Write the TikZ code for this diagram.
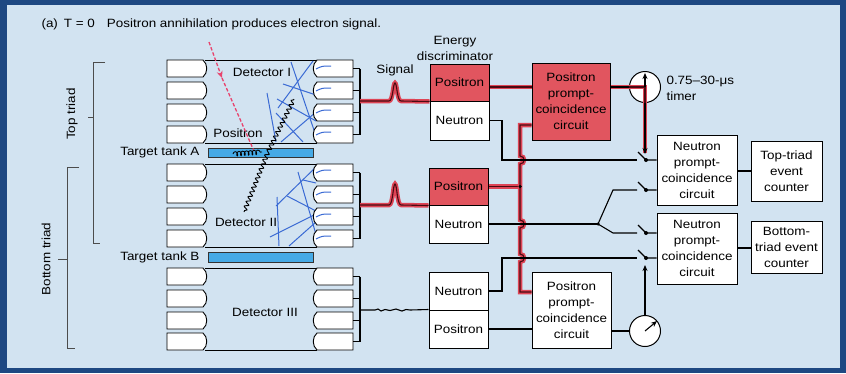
\documentclass[tikz,border=0pt]{standalone}
\usepackage{fontspec}
\setmainfont{Liberation Sans}[FakeStretch=1.12]
\usetikzlibrary{arrows.meta,decorations.pathmorphing}
\definecolor{darkbg}{HTML}{1E4882}
\definecolor{panel}{HTML}{D2E3F1}
\definecolor{redfill}{HTML}{E1555F}
\definecolor{glowred}{HTML}{DE4455}
\definecolor{corered}{HTML}{4A0A12}
\definecolor{tankblue}{HTML}{46AAE6}
\definecolor{rayblue}{HTML}{3A6AD4}
\definecolor{dashred}{HTML}{E8446E}
\newcommand\lblfont{\fontsize{12}{16}\selectfont}
\begin{document}
\begin{tikzpicture}[x=1pt,y=-1pt,font=\lblfont,
  box/.style={draw=black, line width=1pt, fill=white, inner sep=0pt, align=center},
  redbox/.style={box, fill=redfill},
  tube/.style={draw=black, line width=0.9pt, fill=white},
  wire/.style={draw=black, line width=1.1pt},
  sig/.style={draw=corered, line width=1.1pt, preaction={draw=glowred, line width=4.5pt}},
  ray/.style={draw=rayblue, line width=1pt},
  raydash/.style={draw=dashred, line width=1.3pt, dash pattern=on 3.5pt off 2pt},
  gamma/.style={decorate, decoration={snake, amplitude=2pt, segment length=5pt}, line width=0.9pt},
  bracket/.style={draw=black!70, line width=0.7pt},
  sw/.style={draw=black, line width=1.1pt},
  dot/.style={circle, fill=black, inner sep=0pt, minimum size=4pt},
  tmr/.style={circle, draw=black, line width=1pt, fill=white, minimum size=31pt, inner sep=0pt}]

% background
\fill[darkbg] (0,0) rectangle (846,373);
\fill[panel] (7,5) rectangle (840,368);

% title
\node[anchor=west] (title) at (38,24) {(a)\enspace T = 0\quad Positron annihilation produces electron signal.};

% triad brackets
\draw[bracket] (105,62) -- (93,62) -- (93,243) -- (100,243);
\draw[bracket] (88,117) -- (93,117);
\node[rotate=90] (toptriad) at (72,114) {Top triad};
\draw[bracket] (79,167) -- (67,167) -- (67,348) -- (75,348);
\draw[bracket] (58,259) -- (67,259);
\node[rotate=90] (bottriad) at (46,259) {Bottom triad};

% detector outlines
\draw[wire, line width=0.9pt] (205,60) -- (317,60) (205,143) -- (317,143);
\draw[wire, line width=0.9pt] (205,164) -- (317,164) (205,247) -- (317,247);
\draw[wire, line width=0.9pt] (205,268) -- (317,268) (205,350) -- (317,350);

% tanks
\draw[draw=black!80, line width=0.9pt, fill=tankblue] (208,148) rectangle (313,157);
\draw[draw=black!80, line width=0.9pt, fill=tankblue] (208,252) rectangle (313,262);
\node[anchor=east] (tankA) at (203,152.5) {Target tank A};
\node[anchor=east] (tankB) at (203,257) {Target tank B};

% blue light rays, detector I
\draw[ray] (313,61) -- (278,108);
\draw[ray] (267,93) -- (276,142);
\draw[ray] (277,99) -- (316,121);
\draw[ray] (281,142) -- (316,112);
\draw[ray] (276,113) -- (303,142);
\draw[ray] (291,62) -- (317,139);
\draw[ray] (283,84) -- (316,95);
% detector II
\draw[ray] (317,166) -- (276,206);
\draw[ray] (277,197) -- (279,246);
\draw[ray] (287,196) -- (316,211);
\draw[ray] (298,172) -- (317,238);
\draw[ray] (270,237) -- (316,214);
\draw[ray] (289,246) -- (316,222);
\draw[ray] (303,180) -- (316,183);

% photomultiplier tubes
\foreach \t in {60,82,104,126,164,186,208,230,268,290,312,333} {
  \draw[tube] (167,\t) -- (203,\t) .. controls (208,\t+4) and (208,\t+13) .. (203,\t+17) -- (167,\t+17) -- cycle;
  \draw[tube] (353,\t) -- (317,\t) .. controls (312,\t+4) and (312,\t+13) .. (317,\t+17) -- (353,\t+17) -- cycle;
  \draw[wire] (353,\t+8.5) -- (360,\t+8.5);
}
% light entering tubes
\foreach \t in {60,82,104,126,164,186,208,230} {
  \draw[ray] (316,\t+9) .. controls (322,\t+6) .. (331,\t+6);
}
\draw[wire] (360,68.5) -- (360,134.5);
\draw[wire] (360,172.5) -- (360,238.5);
\draw[wire] (360,276.5) -- (360,341.5);
\coordinate (bus1) at (360,101);
\coordinate (bus2) at (360,205);
\coordinate (bus3) at (360,310);

% detector labels
\node (detI) at (262,72) {Detector I};
\node (posI) at (238,133) {Positron};
\node (detII) at (246,222) {Detector II};
\node (detIII) at (265,312) {Detector III};

% positron path and gammas
\draw[raydash, -{Stealth[length=7pt,width=6pt]}] (209,42) -- (222,78);
\draw[raydash] (222,78) -- (254,151);
\draw[gamma] (268,152) -- (294,99);
\draw[gamma] (268,152) -- (244,212);
\draw[line width=0.8pt, decorate, decoration={coil, amplitude=2.2pt, segment length=3.8pt, aspect=0.6}] (233,154) -- (262,152);

% labels above discriminators
\node (signal) at (395,70) {Signal};
\node[align=center] (energy) at (455,48.5) {Energy\\discriminator};

% discriminator boxes
\node[redbox, minimum width=59pt, minimum height=37pt] (pos1) at (459.5,82.5) {Positron};
\node[box, minimum width=59pt, minimum height=39pt] (neu1) at (459.5,120.5) {Neutron};
\node[redbox, minimum width=59pt, minimum height=37pt] (pos2) at (458.5,186.5) {Positron};
\node[box, minimum width=59pt, minimum height=38pt] (neu2) at (458.5,224) {Neutron};
\node[box, minimum width=59pt, minimum height=38pt] (neu3) at (458.5,291) {Neutron};
\node[box, minimum width=59pt, minimum height=38pt] (pos3) at (458.5,329) {Positron};

% coincidence circuits
\node[redbox, minimum width=78pt, minimum height=77pt] (pcc1) at (571,101.5) {Positron\\prompt-\\coincidence\\circuit};
\node[box, minimum width=79pt, minimum height=76pt] (pcc2) at (571.5,310) {Positron\\prompt-\\coincidence\\circuit};
\node[box, minimum width=80pt, minimum height=70pt] (ncc1) at (697,170) {Neutron\\prompt-\\coincidence\\circuit};
\node[box, minimum width=80pt, minimum height=71pt] (ncc2) at (697,248.5) {Neutron\\prompt-\\coincidence\\circuit};
\node[box, minimum width=71pt, minimum height=60pt] (cnt1) at (786.5,171) {Top-triad\\event\\counter};
\node[box, minimum width=71pt, minimum height=52pt] (cnt2) at (786.5,247) {Bottom-\\triad event\\counter};

% timers
\node[tmr] (tm1) at (645,87) {};
\node[tmr] (tm2) at (645,331) {};
\node[align=left, anchor=west] (timerlbl) at (663,88) {0.75–30-μs\\timer};

% switch contacts
\node[dot] (s1) at (646,160) {};
\node[dot] (s2) at (646,190) {};
\node[dot] (s3) at (646,233) {};
\node[dot] (s4) at (646,258) {};

% ---- red (active) signal paths
\draw[sig] (bus1) -- (389,101) .. controls (393,101) and (393,83) .. (395,83) .. controls (397,83) and (397,101) .. (401,101) -- (pos1.south west);
\draw[sig] (bus2) -- (389,205) .. controls (393,205) and (393,184) .. (395,184) .. controls (397,184) and (397,205) .. (401,205) -- (pos2.south west);
\draw[sig] (pos1.east |- tm1) -- (pcc1.west |- tm1);
\draw[sig] (pcc1.east |- tm1) -- (tm1.center) -- (645,153);
\draw[sig] (pos2.east) -- (520,186.5);
\draw[sig] (pcc1.west |- 0,125) -- (520,125) -- (520,156)
   .. controls (525.5,156) and (525.5,164) .. (520,164) -- (520,220)
   .. controls (525.5,220) and (525.5,228) .. (520,228) -- (520,254)
   .. controls (525.5,254) and (525.5,262) .. (520,262) -- (520,292) -- (pcc2.west |- 0,292);
\node[dot, minimum size=3.5pt] (j1) at (520,186.5) {};

% ---- black wiring
\draw[wire] (bus3) -- (375,310) -- (378,309) -- (381,311) -- (385,309.5) -- (390,310.5) -- (396,309) -- (402,311) -- (406,309.5) -- (410,310) -- (pos3.north west);
\draw[wire] (neu1.east) -- (502,120.5) -- (502,160) -- (637,160);
\draw[wire] (neu2.east) -- (598,224);
\node[dot, minimum size=3.5pt] (j2) at (598,224) {};
\draw[wire] (j2.center) -- (613,190) -- (637,190);
\draw[wire] (j2.center) -- (613,233) -- (637,233);
\draw[wire] (neu3.east) -- (502,291) -- (502,258) -- (637,258);
\draw[wire] (pos3.east) -- (pos3.east -| pcc2.west);
\draw[wire] (pcc1.east |- tm1) -- (tm1.west);
\draw[wire] (pcc2.east |- tm2) -- (tm2.west);
\draw[wire, -{Stealth[length=6pt,width=5pt]}] (tm1.center) -- (645,73);
\draw[wire, -{Stealth[length=6pt,width=5pt]}] (tm1.south) -- (645,154);
\draw[wire, -{Stealth[length=6pt,width=5pt]}] (tm2.center) -- (657,321);
\draw[wire, -{Stealth[length=6pt,width=5pt]}] (tm2.north) -- (645,265);
% switch blades and outputs
\draw[sw] (638,152) -- (s1.center) -- (ncc1.west |- s1);
\draw[sw] (638,182) -- (s2.center) -- (ncc1.west |- s2);
\draw[sw] (638,225) -- (s3.center) -- (ncc2.west |- s3);
\draw[sw] (638,250) -- (s4.center) -- (ncc2.west |- s4);
% to counters
\draw[wire] (ncc1.east |- cnt1) -- (cnt1.west);
\draw[wire] (ncc2.east |- 0,248) -- (cnt2.west |- 0,248);
\end{tikzpicture}
\end{document}
